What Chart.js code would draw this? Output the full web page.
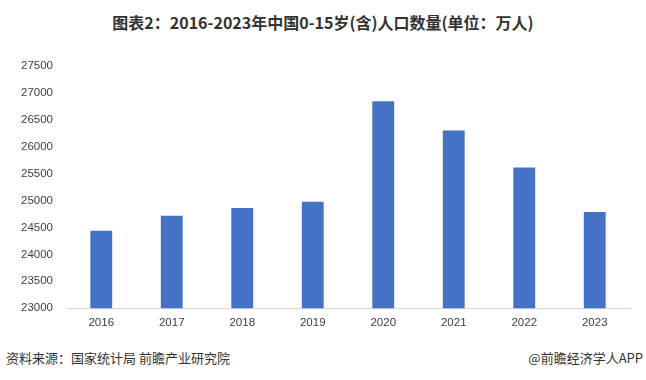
<!DOCTYPE html>
<html>
<head>
<meta charset="utf-8">
<script src="https://cdn.jsdelivr.net/npm/chart.js@4"></script>
<style>
  body { margin: 0; background: #fff; }
  #wrap { position: relative; width: 646px; height: 380px; overflow: hidden; }
  #title { position: absolute; top: 10px; left: 0; width: 646px; text-align: center;
    font: bold 16px "Noto Sans CJK SC", sans-serif; color: #333; line-height: 24px; }
  #chartBox { position: absolute; top: 40px; left: 0; width: 646px; height: 300px; }
  .foot { position: absolute; top: 348px; font: 13px "Noto Sans CJK SC", sans-serif; color: #333; line-height: 20px; }
  #src { left: 6px; }
  #brand { right: 3px; }
</style>
</head>
<body>
<div id="wrap">
  <div id="title">图表2：2016-2023年中国0-15岁(含)人口数量(单位：万人)</div>
  <div id="chartBox"><canvas id="bars"></canvas></div>
  <div class="foot" id="src">资料来源：国家统计局 前瞻产业研究院</div>
  <div class="foot" id="brand">@前瞻经济学人APP</div>
</div>
<script>
const years = ["2016", "2017", "2018", "2019", "2020", "2021", "2022", "2023"];
const population = [24438, 24719, 24860, 24977, 26847, 26302, 25615, 24789];
const yMin = 23000;
const yMax = 27500;
const yStep = 500;

new Chart(document.getElementById("bars"), {
  type: 'bar',
  data: {
    labels: years,
    datasets: [{
      label: '人口数量',
      data: population,
      backgroundColor: '#4472C4',
      barPercentage: 0.31,
      categoryPercentage: 1
    }]
  },
  options: {
    responsive: true,
    maintainAspectRatio: false,
    animation: false,
    layout: { padding: { top: 26, right: 16, bottom: 2, left: 0 } },
    plugins: {
      legend: { display: false },
      tooltip: { enabled: false }
    },
    scales: {
      x: {
        grid: { display: false, drawTicks: false },
        border: { display: true, color: '#d9d9d9', width: 1 },
        ticks: { padding: 8, color: '#404040', font: { family: 'Liberation Sans', size: 11.5 } }
      },
      y: {
        min: yMin,
        max: yMax,
        grid: { display: false, drawTicks: false },
        border: { display: false },
        ticks: {
          stepSize: yStep,
          padding: 13,
          color: '#404040',
          font: { family: 'Liberation Sans', size: 11.5 },
          callback: (v) => String(v)
        },
        afterFit: (scale) => { scale.width = 66; }
      }
    }
  }
});
</script>
</body>
</html>
